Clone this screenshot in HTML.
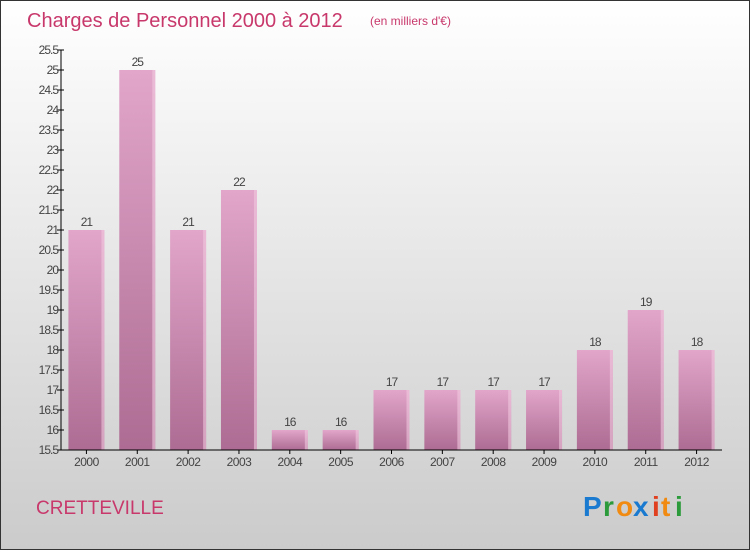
<!DOCTYPE html>
<html><head><meta charset="utf-8">
<style>
body{margin:0;width:750px;height:550px;overflow:hidden;font-family:"Liberation Sans",sans-serif}
</style></head>
<body>
<svg width="750" height="550" xmlns="http://www.w3.org/2000/svg">
<defs>
<linearGradient id="bg" x1="0" y1="0" x2="0" y2="1"><stop offset="0" stop-color="#ffffff"/><stop offset="1" stop-color="#cbcbcb"/></linearGradient>
<linearGradient id="bar" x1="0" y1="0" x2="0" y2="1"><stop offset="0" stop-color="#e2a6ca"/><stop offset="1" stop-color="#ad6c93"/></linearGradient>
</defs>
<rect x="0.5" y="0.5" width="749" height="549" fill="url(#bg)" stroke="#333"/>
<text x="27" y="27" font-size="20" fill="#c8386b">Charges de Personnel 2000 à 2012</text>
<text x="370" y="25" font-size="12" fill="#c8386b">(en milliers d'€)</text>
<g id="plot"></g>
<text x="36" y="514" font-size="19" fill="#c8386b">CRETTEVILLE</text>
<g font-size="28" font-weight="bold" font-family="'Liberation Sans',sans-serif">
<text x="583" y="516" fill="#1a7ad0">P</text><text x="603" y="516" fill="#2a9a3a">r</text><text x="616" y="516" fill="#f08a10">o</text><text x="633" y="516" fill="#1a7ad0">x</text><text x="652" y="516" fill="#e04020">i</text><text x="661" y="516" fill="#f08a10">t</text><text x="675" y="516" fill="#2a9a3a">i</text>
</g>
</svg>
<script>
const years=["2000","2001","2002","2003","2004","2005","2006","2007","2008","2009","2010","2011","2012"];
const values=[21,25,21,22,16,16,17,17,17,17,18,19,18];
const yTicks=[15.5,16,16.5,17,17.5,18,18.5,19,19.5,20,20.5,21,21.5,22,22.5,23,23.5,24,24.5,25,25.5];
const NS="http://www.w3.org/2000/svg";
const plotG=document.getElementById('plot');
const x0=61,x1=722,yMin=15.5,yMax=25.5,plotTop=50,plotBot=450;
const yS=v=>plotBot-(v-yMin)/(yMax-yMin)*(plotBot-plotTop);
const step=(x1-x0)/years.length;
const xc=i=>x0+step*(i+0.5);
function mk(t,a){const e=document.createElementNS(NS,t);for(const k in a)e.setAttribute(k,a[k]);plotG.appendChild(e);return e;}
yTicks.forEach(t=>{
 const l=mk('line',{x1:x0-4,x2:x0+3,y1:yS(t),y2:yS(t),stroke:'#000'});
 
 
 const tx=mk('text',{x:x0-3,y:yS(t)+4,'font-size':12,'text-anchor':'end',fill:'#444','letter-spacing':'-1'});
 tx.textContent=String(t);
 
 
});
values.forEach((v,i)=>{
 const bw=36,bx=xc(i)-bw/2;
 const r=mk('rect',{x:bx,y:yS(v),width:bw,height:plotBot-yS(v),fill:'url(#bar)'});
 
 
 const e=mk('rect',{x:bx+bw-3,y:yS(v),width:3,height:plotBot-yS(v),fill:'#f0c8dd',opacity:0.6});
 
 
 const lt=mk('text',{x:xc(i),y:yS(v)-4,'font-size':12,'text-anchor':'middle',fill:'#444','letter-spacing':'-1'});
 lt.textContent=String(v);
 
 
 const tk=mk('line',{x1:xc(i),x2:xc(i),y1:plotBot,y2:plotBot+4,stroke:'#000'});
 
 
 const xt=mk('text',{x:xc(i),y:plotBot+16,'font-size':12,'text-anchor':'middle',fill:'#444','letter-spacing':'-0.5'});
 xt.textContent=years[i];
 
 
});
const ya=mk('line',{x1:x0,x2:x0,y1:plotTop,y2:plotBot,stroke:'#000'});


const xa=mk('line',{x1:x0,x2:x1,y1:plotBot,y2:plotBot,stroke:'#000'});


</script>
</body></html>
